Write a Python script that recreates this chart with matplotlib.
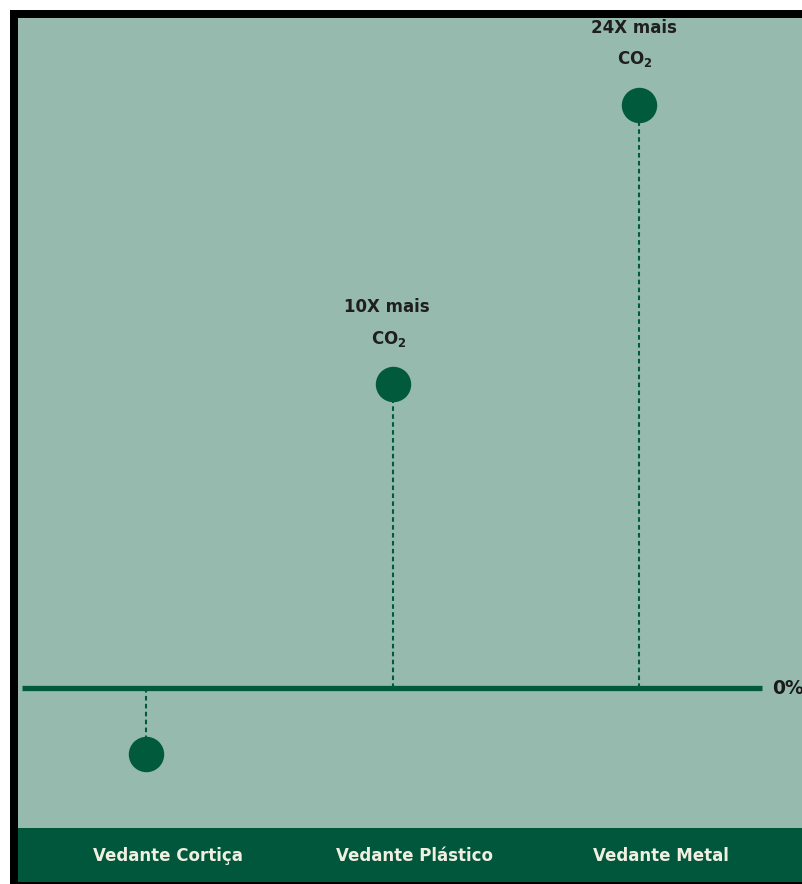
import numpy as np
import matplotlib
matplotlib.use("Agg")
import matplotlib.pyplot as plt
from matplotlib.patches import Rectangle

plt.rcParams['font.family'] = ['DejaVu Sans']
plt.rcParams['mathtext.fontset'] = 'dejavusans'

categorias = ["Vedante Cortiça", "Vedante Plástico", "Vedante Metal"]
valores = [-1.3, 10, 24]
rotulos = [None, "10X mais", "24X mais"]

FUNDO = "#96bbae"
VERDE = "#015a3c"
FAIXA = "#00573b"

W, H = 803, 884
P = 0.745


# escala de potência com sinal, para os valores grandes não esmagarem os pequenos
def fwd(v):
    v = np.asarray(v, dtype=float)
    return np.sign(v) * np.abs(v) ** P


def inv(t):
    t = np.asarray(t, dtype=float)
    return np.sign(t) * np.abs(t) ** (1 / P)


fig = plt.figure(figsize=(W / 100, H / 100), dpi=100, facecolor="white")
fig.patches.append(Rectangle((10 / W, 0), 1, (H - 10) / H, transform=fig.transFigure,
                             facecolor="black", edgecolor="none", zorder=-5))

ax = fig.add_axes([18 / W, (H - 828) / H, (W - 16) / W, 810 / H])
ax.set_facecolor(FUNDO)
ax.set_yscale('function', functions=(fwd, inv))
escala = 54.6  # px por unidade transformada
ax.set_ylim(float(inv(-140 / escala)), float(inv(670 / escala)))
ax.set_xlim(-0.519, 2.673)
for s in ax.spines.values():
    s.set_visible(False)
ax.set_xticks([])
ax.set_yticks([])
ax.minorticks_off()

x = np.arange(len(categorias))

# linha do zero
ax.plot([-0.503, 2.499], [0, 0], color=VERDE, lw=3.8, solid_capstyle="butt", zorder=2)
ax.text(2.54, 0, "0%", fontsize=13.5, fontweight="bold", color="#1a1a1a",
        va="center", ha="left")

for xi, v, rot in zip(x, valores, rotulos):
    ax.plot([xi, xi], [0, v], color=VERDE, lw=1.5, ls=(0, (2.2, 1.6)), zorder=1)
    ax.plot(xi, v, "o", ms=24.5, color=VERDE, mec=VERDE, zorder=3)
    if rot:
        ax.annotate(rot, (xi, v), xytext=(-4, 56), textcoords="offset points",
                    ha="center", va="center", fontsize=12, fontweight="bold",
                    color="#1f1f1f")
        ax.annotate(r"CO$_\mathbf{2}$", (xi, v), xytext=(-3, 33), textcoords="offset points",
                    ha="center", va="center", fontsize=12, fontweight="bold",
                    color="#1f1f1f")

# faixa inferior com as categorias
band = fig.add_axes([18 / W, 2 / H, (W - 16) / W, 54 / H])
band.set_facecolor(FAIXA)
band.set_xlim(ax.get_xlim())
band.set_ylim(0, 1)
for s in band.spines.values():
    s.set_visible(False)
band.set_xticks([])
band.set_yticks([])
for xi, nome in zip(x, categorias):
    band.text(xi + 0.088, 0.39, nome, ha="center", va="baseline", fontsize=12,
              fontweight="bold", color="#f0f0e2")

fig.savefig("out.png", dpi=100, facecolor=fig.get_facecolor())
